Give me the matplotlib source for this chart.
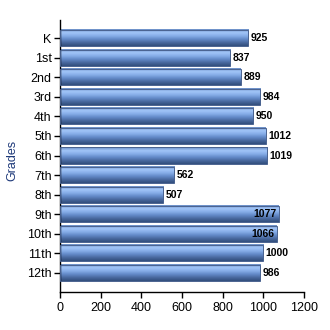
import numpy as np
import matplotlib
matplotlib.use("Agg")
import matplotlib.pyplot as plt
from matplotlib.colors import LinearSegmentedColormap

plt.rcParams['font.family'] = ['Liberation Sans', 'DejaVu Sans']

grades = ['K', '1st', '2nd', '3rd', '4th', '5th', '6th', '7th', '8th', '9th', '10th', '11th', '12th']
counts = [925, 837, 889, 984, 950, 1012, 1019, 562, 507, 1077, 1066, 1000, 986]
inside = ['9th', '10th']  # labels drawn inside the bar

# gradient for the bars: top -> bottom
cmap = LinearSegmentedColormap.from_list(
    'bar', ['#6a8cc4', '#a2c6f8', '#86ade8', '#638ac8', '#48689e', '#324e7c'])
grad = np.linspace(0, 1, 64).reshape(-1, 1)

fig = plt.figure(figsize=(3.3, 3.3), dpi=100)
ax = fig.add_axes([0.1818, 0.1152, 0.7394, 0.8242])

y = np.arange(len(grades))
h = 0.82
bars = ax.barh(y, counts, height=h, color='none', edgecolor='#4a6390', linewidth=0.7, zorder=3)
for b in bars:
    x0, y0 = b.get_x(), b.get_y()
    ax.imshow(grad, cmap=cmap, aspect='auto', interpolation='bilinear',
              extent=(x0, x0 + b.get_width(), y0 + b.get_height(), y0), zorder=2)

for yi, g, c in zip(y, grades, counts):
    if g in inside:
        ax.text(c - 12, yi, str(c), ha='right', va='center', fontsize=7.5, fontweight='bold', zorder=4)
    else:
        ax.text(c + 12, yi, str(c), ha='left', va='center', fontsize=7.5, fontweight='bold', zorder=4)

ax.set_xlim(0, 1200)
ax.set_ylim(len(grades) - 1 + 0.97, -0.92)
ax.set_xticks(range(0, 1201, 200))
ax.set_yticks(y)
ax.set_yticklabels(grades)
ax.tick_params(axis='both', labelsize=9, length=4, width=1, color='black')
ax.tick_params(axis='y', pad=2)
ax.set_ylabel('Grades', color='#1f3a7a', fontsize=9)
ax.yaxis.set_label_coords(-0.17, 0.485)
for s in ['top', 'right']:
    ax.spines[s].set_visible(False)
for s in ['left', 'bottom']:
    ax.spines[s].set_linewidth(1)

fig.savefig('out.png', dpi=100)
